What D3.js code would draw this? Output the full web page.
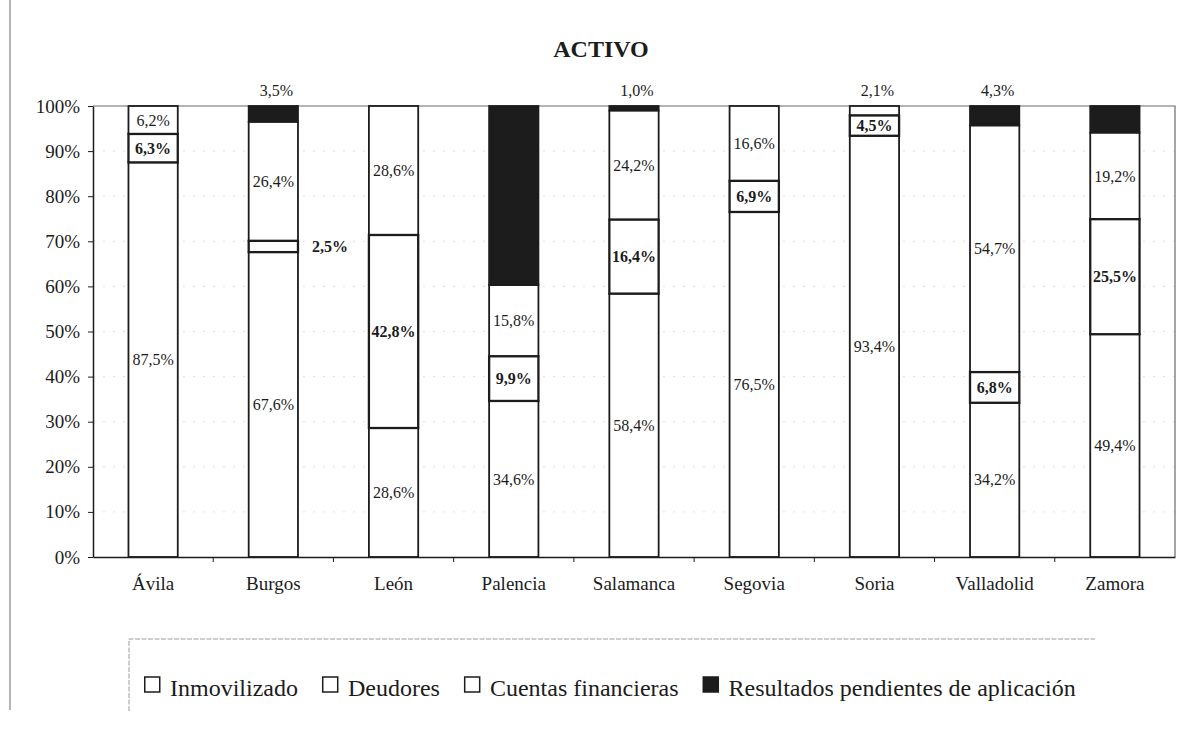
<!DOCTYPE html>
<html>
<head>
<meta charset="utf-8">
<script src="https://cdn.jsdelivr.net/npm/d3@7"></script>
<style>
  body { margin: 0; background: #fff; }
  text { font-family: "Liberation Serif", "Times New Roman", serif; fill: #1c1c1c; }
</style>
</head>
<body>
<svg id="chart" width="1178" height="735"></svg>
<script>
// Structure of assets (% of total) by province
const categories = ["Ávila", "Burgos", "León", "Palencia", "Salamanca", "Segovia", "Soria", "Valladolid", "Zamora"];
const inmovilizado = [87.5, 67.6, 28.6, 34.6, 58.4, 76.5, 93.4, 34.2, 49.4];
const deudores     = [6.3, 2.5, 42.8, 9.9, 16.4, 6.9, 4.5, 6.8, 25.5];
const cuentas      = [6.2, 26.4, 28.6, 15.8, 24.2, 16.6, 2.1, 54.7, 19.2];
const resultados   = [0, 3.5, 0, 39.7, 1.0, 0, 0, 4.3, 5.9];
const seriesNames  = ["Inmovilizado", "Deudores", "Cuentas financieras", "Resultados pendientes de aplicación"];
const yTicks       = [0, 10, 20, 30, 40, 50, 60, 70, 80, 90, 100];
const title        = "ACTIVO";

const ink = "#1c1c1c";
const seriesFill = { "Inmovilizado": "#fff", "Deudores": "#fff", "Cuentas financieras": "#fff", "Resultados pendientes de aplicación": ink };

// where a value label sits, when not centred inside its segment
const labelSpot = {
  "Burgos|Deudores": "right",
  "Burgos|Resultados pendientes de aplicación": "top",
  "Salamanca|Resultados pendientes de aplicación": "top",
  "Soria|Cuentas financieras": "top",
  "Valladolid|Resultados pendientes de aplicación": "top",
  "Palencia|Resultados pendientes de aplicación": "none",
  "Zamora|Resultados pendientes de aplicación": "none"
};

const svg = d3.select("#chart");
const plot = { left: 93, right: 1175, top: 106, bottom: 557 };

const x = d3.scaleBand().domain(categories)
  .range([plot.left, plot.right]).paddingInner(0.59).paddingOuter(0.295);
const y = d3.scaleLinear().domain([0, 100]).range([plot.bottom, plot.top]);

const locale = d3.formatLocale({ decimal: ",", thousands: ".", grouping: [3], currency: ["", "€"] });
const fmt = v => locale.format(".1f")(v) + "%";

const table = categories.map((c, i) => ({
  cat: c,
  "Inmovilizado": inmovilizado[i],
  "Deudores": deudores[i],
  "Cuentas financieras": cuentas[i],
  "Resultados pendientes de aplicación": resultados[i]
}));
const stacked = d3.stack().keys(seriesNames)(table);

// page edge
svg.append("line").attr("x1", 10).attr("x2", 10).attr("y1", 0).attr("y2", 710)
  .attr("stroke", "#b5b5b5").attr("stroke-width", 2);

// title
svg.append("text").attr("x", 601).attr("y", 57).attr("text-anchor", "middle")
  .style("font-size", "24px").style("font-weight", "bold").text(title);

// gridlines
svg.append("g").selectAll("line").data(yTicks.filter(t => t > 0 && t < 100)).join("line")
  .attr("x1", plot.left).attr("x2", plot.right)
  .attr("y1", d => y(d)).attr("y2", d => y(d))
  .attr("stroke", "#e0e0e0").attr("stroke-dasharray", "2,8");

// plot frame (top and right)
svg.append("path")
  .attr("d", `M${plot.left},${y(100)}H${plot.right}V${y(0)}`)
  .attr("fill", "none").attr("stroke", "#6a6a6a").attr("stroke-width", 1.2);

// bars
const layers = svg.append("g").selectAll("g").data(stacked).join("g")
  .attr("fill", d => seriesFill[d.key]);
layers.sort((a, b) => (a.key === "Deudores") - (b.key === "Deudores"));
layers.selectAll("rect").data(d => d.map(p => ({ key: d.key, p })).filter(o => o.p[1] - o.p[0] > 0)).join("rect")
  .attr("x", o => x(o.p.data.cat))
  .attr("width", x.bandwidth())
  .attr("y", o => y(o.p[1]))
  .attr("height", o => y(o.p[0]) - y(o.p[1]))
  .attr("stroke", ink)
  .attr("stroke-width", o => o.key === "Deudores" ? 2.3 : 1.8);

// value labels
const labels = [];
stacked.forEach(layer => {
  layer.forEach(p => {
    const v = p[1] - p[0];
    if (v <= 0) return;
    const spot = labelSpot[p.data.cat + "|" + layer.key] || "in";
    if (spot === "none") return;
    const cx = x(p.data.cat) + x.bandwidth() / 2;
    let lx = cx, ly = (y(p[0]) + y(p[1])) / 2, anchor = "middle";
    if (spot === "top") { lx = cx + 3; ly = y(100) - 16; }
    if (spot === "right") { lx = x(p.data.cat) + x.bandwidth() + 14; anchor = "start"; }
    labels.push({ lx, ly, anchor, text: fmt(v), bold: layer.key === "Deudores" });
  });
});
svg.append("g").selectAll("text").data(labels).join("text")
  .attr("x", d => d.lx).attr("y", d => d.ly).attr("dy", "0.35em")
  .attr("text-anchor", d => d.anchor)
  .style("font-size", "16px")
  .style("font-weight", d => d.bold ? "bold" : "normal")
  .text(d => d.text);

// y axis
const yAxis = svg.append("g").attr("transform", `translate(${plot.left},0)`)
  .call(d3.axisLeft(y).tickValues(yTicks).tickSize(5).tickSizeOuter(0).tickPadding(8).tickFormat(d => d + "%"));
yAxis.selectAll("text").style("font-size", "19px").style("font-family", '"Liberation Serif", serif').attr("fill", ink);
yAxis.selectAll("line").attr("stroke", ink);
yAxis.select(".domain").attr("stroke", ink).attr("stroke-width", 1.5);

// x axis
const xAxis = svg.append("g").attr("transform", `translate(0,${plot.bottom})`)
  .call(d3.axisBottom(x).tickSize(0).tickSizeOuter(0).tickPadding(20));
xAxis.selectAll("text").style("font-size", "19px").style("font-family", '"Liberation Serif", serif').attr("fill", ink);
xAxis.select(".domain").attr("stroke", ink).attr("stroke-width", 1.5);

// tick marks between categories
const half = x.step() * x.paddingInner() / 2;
const bounds = categories.slice(1).map(c => x(c) - half);
xAxis.append("g").selectAll("line").data(bounds).join("line")
  .attr("x1", d => d).attr("x2", d => d).attr("y1", 0).attr("y2", 5)
  .attr("stroke", ink);

// legend
const legend = svg.append("g");
legend.append("path").attr("d", "M129,711V639H1095")
  .attr("fill", "none").attr("stroke", "#9c9c9c").attr("stroke-dasharray", "5,1.5");
let lx = 144;
seriesNames.forEach(name => {
  legend.append("rect").attr("x", lx + 0.75).attr("y", 677).attr("width", 15).attr("height", 15)
    .attr("fill", seriesFill[name]).attr("stroke", ink).attr("stroke-width", 1.5);
  const t = legend.append("text").attr("x", lx + 26).attr("y", 696)
    .style("font-size", "24px").text(name);
  lx += 26 + t.node().getComputedTextLength() + 24;
});
</script>
</body>
</html>
